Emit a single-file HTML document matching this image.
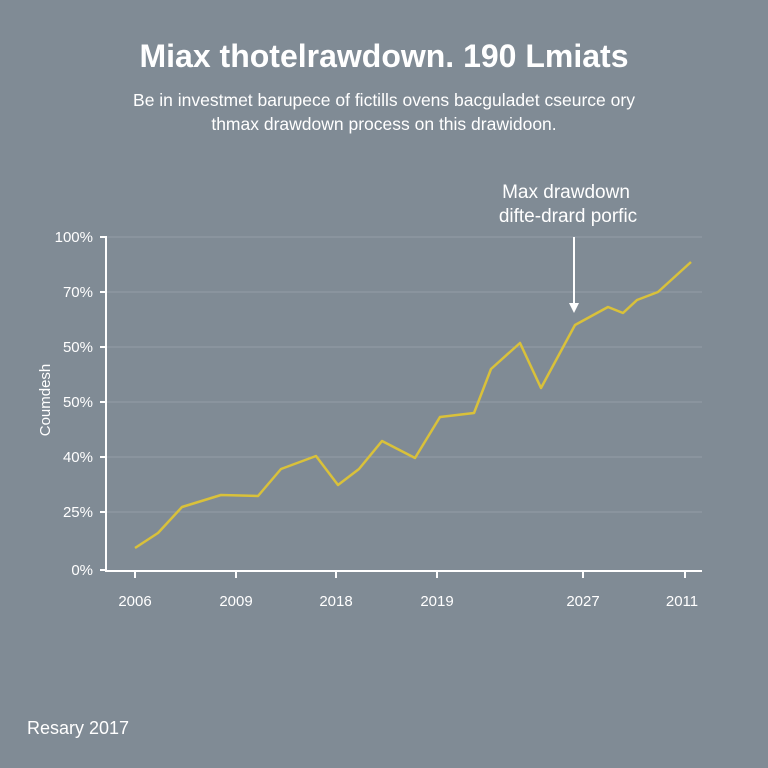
<!DOCTYPE html><html><head><style>
body{margin:0;width:768px;height:768px;background:#808b95;font-family:"Liberation Sans",sans-serif;overflow:hidden}
</style></head><body>
<svg width="768" height="768" xmlns="http://www.w3.org/2000/svg" style="position:absolute;left:0;top:0">
<rect width="768" height="768" fill="#808b95"/>
<text x="384" y="67" text-anchor="middle" font-size="32" font-weight="bold" fill="#fff" font-family="Liberation Sans">Miax thotelrawdown. 190 Lmiats</text>
<text x="384" y="106" text-anchor="middle" font-size="17.5" fill="#fff" font-family="Liberation Sans">Be in investmet barupece of fictills ovens bacguladet cseurce ory</text>
<text x="384" y="130" text-anchor="middle" font-size="17.5" fill="#fff" font-family="Liberation Sans">thmax drawdown process on this drawidoon.</text>
<text x="566" y="198" text-anchor="middle" font-size="19" fill="#fff">Max drawdown</text>
<text x="568" y="222" text-anchor="middle" font-size="19" fill="#fff">difte-drard porfic</text>
<g stroke="#939ea7" stroke-width="1">
<line x1="106" y1="237" x2="702" y2="237"/><line x1="106" y1="292" x2="702" y2="292"/><line x1="106" y1="347" x2="702" y2="347"/><line x1="106" y1="402" x2="702" y2="402"/><line x1="106" y1="457" x2="702" y2="457"/><line x1="106" y1="512" x2="702" y2="512"/>
</g>
<g stroke="#fff" stroke-width="2">
<line x1="106" y1="236" x2="106" y2="571"/><line x1="105" y1="571" x2="702" y2="571"/>
<line x1="100" y1="237" x2="106" y2="237"/><line x1="100" y1="292" x2="106" y2="292"/><line x1="100" y1="347" x2="106" y2="347"/><line x1="100" y1="402" x2="106" y2="402"/><line x1="100" y1="457" x2="106" y2="457"/><line x1="100" y1="512" x2="106" y2="512"/><line x1="100" y1="570" x2="106" y2="570"/>
<line x1="135" y1="571" x2="135" y2="578"/><line x1="236" y1="571" x2="236" y2="578"/><line x1="336" y1="571" x2="336" y2="578"/><line x1="437" y1="571" x2="437" y2="578"/><line x1="583" y1="571" x2="583" y2="578"/><line x1="685" y1="571" x2="685" y2="578"/>
</g>
<g font-size="15" fill="#fff" text-anchor="end">
<text x="93" y="242">100%</text><text x="93" y="297">70%</text><text x="93" y="352">50%</text><text x="93" y="407">50%</text><text x="93" y="462">40%</text><text x="93" y="517">25%</text><text x="93" y="575">0%</text>
</g>
<g font-size="15" fill="#fff" text-anchor="middle">
<text x="135" y="606">2006</text><text x="236" y="606">2009</text><text x="336" y="606">2018</text><text x="437" y="606">2019</text><text x="583" y="606">2027</text><text x="682" y="606">2011</text>
</g>
<text transform="translate(50,400) rotate(-90)" text-anchor="middle" font-size="15" fill="#fff">Coumdesh</text>
<line x1="574" y1="237" x2="574" y2="305" stroke="#fff" stroke-width="2"/>
<polygon points="569,303 579,303 574,313" fill="#fff"/>
<polyline fill="none" stroke="#d9c13a" stroke-width="2.5" stroke-linejoin="round" points="135,548 158,533 182,507 221,495 258,496 281,469 316,456 338,485 359,469 382,441 415,458 440,417 474,413 491,369 520,343 541,388 575,325 608,307 623,313 637,300 658,292 691,262"/>
<text x="27" y="734" font-size="18" fill="#fff">Resary  2017</text>
</svg>
</body></html>
